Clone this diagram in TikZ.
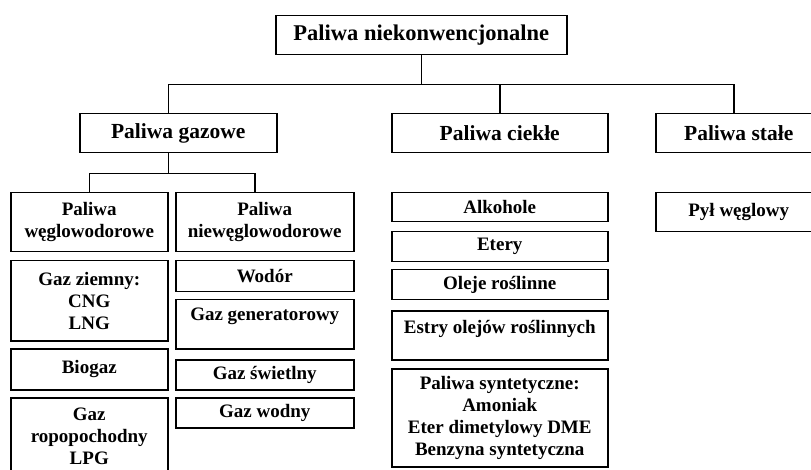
\documentclass[tikz,border=0pt]{standalone}
\usepackage{fontspec}
\setmainfont{Liberation Serif}
\usetikzlibrary{positioning}

\begin{document}
\begin{tikzpicture}[x=1pt, y=-1pt,
	cell/.style={draw, line width=1.5pt, inner sep=0pt, anchor=north west, align=center, font=\bfseries\fontsize{19}{22}\selectfont},
	head/.style={cell, font=\bfseries\fontsize{21.5}{25}\selectfont},
	root/.style={cell, font=\bfseries\fontsize{22.5}{26}\selectfont},
	link/.style={line width=1.5pt}]
				\useasboundingbox[fill=white] (0,0) rectangle (811,470);
				\node[root, minimum width=291pt, minimum height=39pt] (paliwa) at (275,15) {Paliwa niekonwencjonalne};
				\node[head, minimum width=197pt, minimum height=39pt] (gazowe) at (79,113) {Paliwa gazowe};
				\node[head, minimum width=216pt, minimum height=39pt] (ciekle) at (391,113) {Paliwa ciekłe};
				\node[head, minimum width=166pt, minimum height=39pt] (stale) at (655,113) {Paliwa stałe};
				\node[cell, minimum width=157pt, minimum height=59pt] (wegl) at (10,192) {Paliwa\\węglowodorowe};
				\node[cell, minimum width=157pt, minimum height=80pt] (ziemny) at (10,260) {Gaz ziemny:\\CNG\\LNG};
				\node[cell, minimum width=157pt, minimum height=41pt] (biogaz) at (10,348) {Biogaz};
				\node[cell, minimum width=157pt, minimum height=77pt] (lpg) at (10,397) {Gaz\\ropopochodny\\LPG};
				\node[cell, minimum width=178pt, minimum height=59pt] (niewegl) at (175,192) {Paliwa\\niewęglowodorowe};
				\node[cell, minimum width=178pt, minimum height=31pt] (wodor) at (175,260) {Wodór};
				\node[cell, minimum width=178pt, text height=21pt, text depth=28pt] (generator) at (175,299) {Gaz generatorowy};
				\node[cell, minimum width=178pt, minimum height=30pt] (swietlny) at (175,359) {Gaz świetlny};
				\node[cell, minimum width=178pt, minimum height=30pt] (wodny) at (175,397) {Gaz wodny};
				\node[cell, minimum width=216pt, minimum height=29pt] (alkohole) at (391,192) {Alkohole};
				\node[cell, minimum width=216pt, minimum height=30pt] (etery) at (391,231) {Etery};
				\node[cell, minimum width=216pt, minimum height=30pt] (oleje) at (391,269) {Oleje roślinne};
				\node[cell, minimum width=216pt, text height=23pt, text depth=26pt] (estry) at (391,310) {Estry olejów roślinnych};
				\node[cell, minimum width=216pt, minimum height=98pt] (syntetyczne) at (391,368) {Paliwa syntetyczne:\\Amoniak\\Eter dimetylowy DME\\Benzyna syntetyczna};
				\node[cell, minimum width=166pt, minimum height=39pt] (pyl) at (655,192) {Pył węglowy};
				\draw[link] (paliwa.south) -- ++(0,29) coordinate (bus);
				\draw[link] ([xshift=-10pt]gazowe.north) |- (bus) -| (ciekle.north);
				\draw[link] (bus) -| ([xshift=-5pt]stale.north);
				\draw[link] ([xshift=-10pt]gazowe.south) -- ++(0,20) coordinate (gazbus);
				\draw[link] (wegl.north) |- (gazbus) -| ([xshift=-10pt]niewegl.north);
			\end{tikzpicture}
\end{document}
